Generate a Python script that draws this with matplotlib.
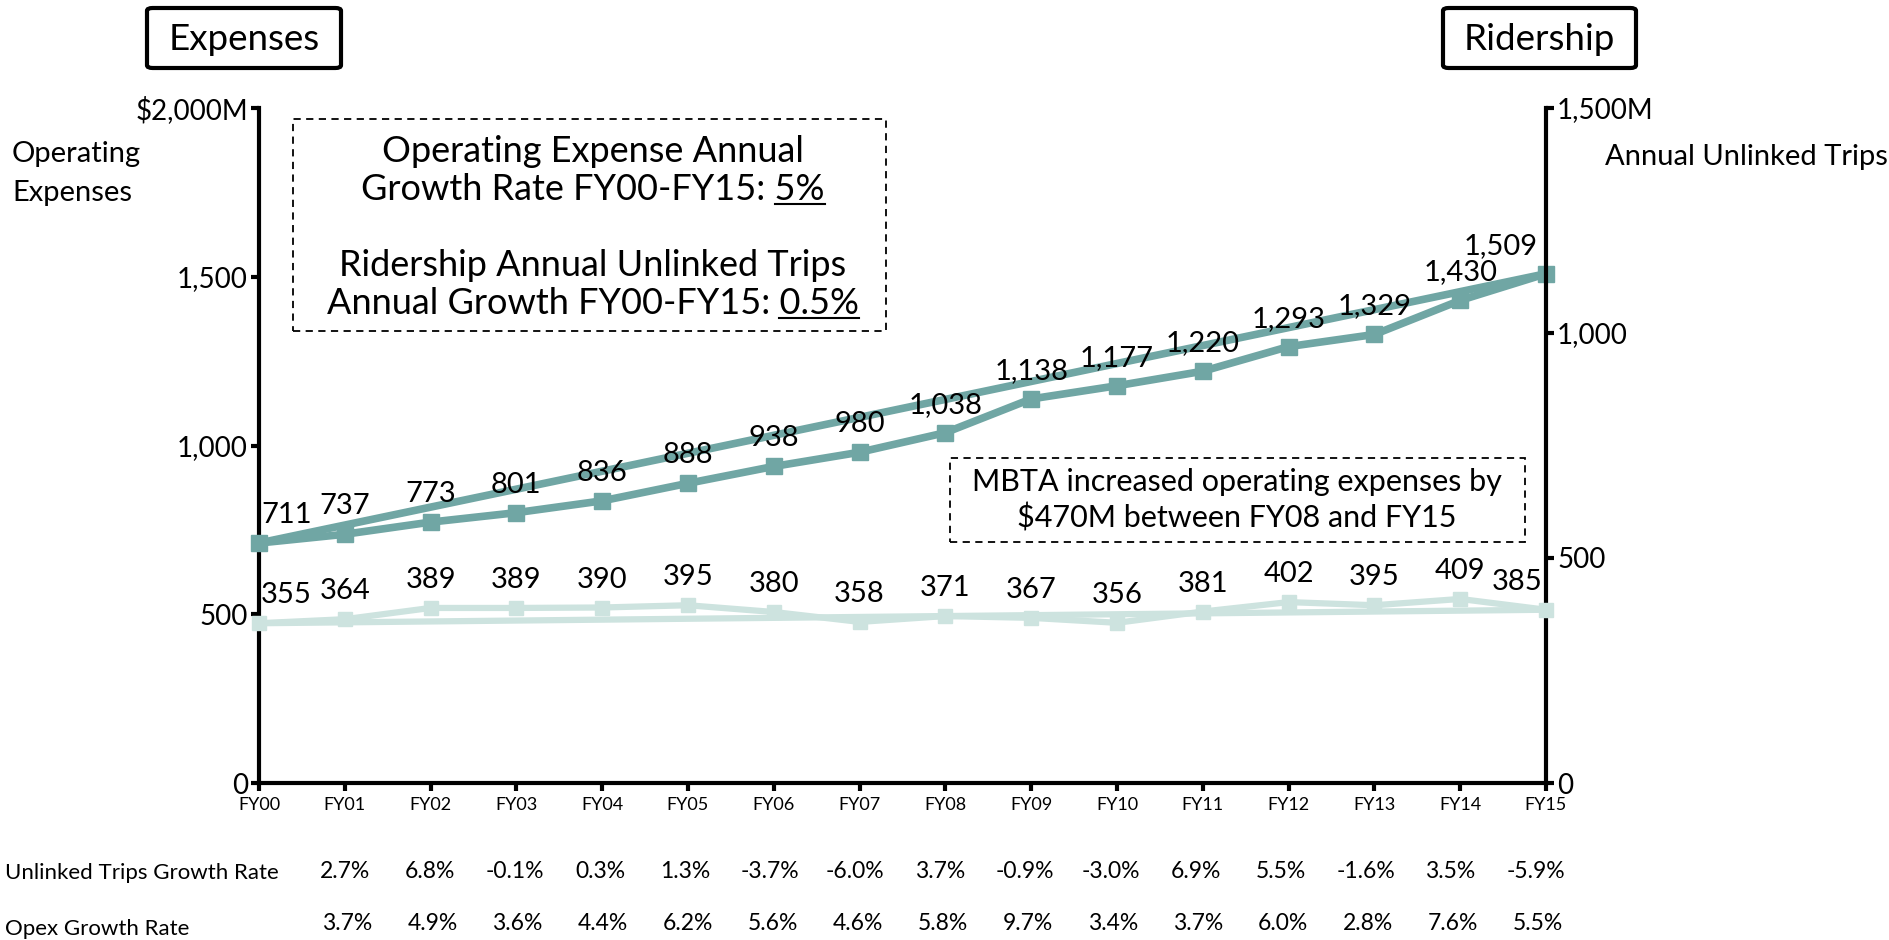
import matplotlib
matplotlib.use("Agg")
import matplotlib.pyplot as plt
from matplotlib.patches import Rectangle, FancyBboxPatch
from matplotlib.transforms import blended_transform_factory

plt.rcParams['font.family'] = ['Lato', 'DejaVu Sans']

years = ['FY00', 'FY01', 'FY02', 'FY03', 'FY04', 'FY05', 'FY06', 'FY07',
         'FY08', 'FY09', 'FY10', 'FY11', 'FY12', 'FY13', 'FY14', 'FY15']
opex = [711, 737, 773, 801, 836, 888, 938, 980, 1038, 1138, 1177, 1220, 1293, 1329, 1430, 1509]
trips = [355, 364, 389, 389, 390, 395, 380, 358, 371, 367, 356, 381, 402, 395, 409, 385]
trip_growth = ['2.7%', '6.8%', '-0.1%', '0.3%', '1.3%', '-3.7%', '-6.0%', '3.7%',
               '-0.9%', '-3.0%', '6.9%', '5.5%', '-1.6%', '3.5%', '-5.9%']
opex_growth = ['3.7%', '4.9%', '3.6%', '4.4%', '6.2%', '5.6%', '4.6%', '5.8%',
               '9.7%', '3.4%', '3.7%', '6.0%', '2.8%', '7.6%', '5.5%']

dark = '#70a6a4'
light = '#cde3df'
W, H = 1890, 940

fig = plt.figure(figsize=(W / 100, H / 100), dpi=100)
ax = fig.add_axes([259 / W, 1 - 783 / H, (1546 - 259) / W, (783 - 108) / H])
ax2 = ax.twinx()

x = list(range(len(years)))

# opex line + straight trend between first and last year
ax.plot(x, opex, color=dark, lw=5.5, marker='s', ms=11, clip_on=False, zorder=3)
ax.plot([x[0], x[-1]], [opex[0], opex[-1]], color=dark, lw=5.5, clip_on=False, zorder=3)
# ridership line + trend
ax2.plot(x, trips, color=light, lw=4.5, marker='s', ms=10, clip_on=False, zorder=3)
ax2.plot([x[0], x[-1]], [trips[0], trips[-1]], color=light, lw=4.5, clip_on=False, zorder=3)

ax.set_xlim(0, 15)
ax.set_ylim(0, 2000)
ax2.set_ylim(0, 1500)

ax.set_xticks(x)
ax.set_xticklabels(years, fontsize=13)
ax.set_yticks([0, 500, 1000, 1500, 2000])
ax.set_yticklabels(['0', '500', '1,000', '1,500', '$2,000M'], fontsize=20)
ax2.set_yticks([0, 500, 1000, 1500])
ax2.set_yticklabels(['0', '500', '1,000', '1,500M'], fontsize=20)

for a in (ax, ax2):
    a.spines['top'].set_visible(False)
    for s in ('left', 'right', 'bottom'):
        a.spines[s].set_linewidth(3)
    a.tick_params(width=3, length=6, pad=2)
ax.tick_params(axis='x', pad=4)
ax.spines['right'].set_visible(False)
ax2.spines['left'].set_visible(False)
ax2.spines['bottom'].set_visible(False)

def label_points(a, vals, last_dx):
    for i, v in enumerate(vals):
        ha, dx = 'center', 0
        if i == 0:
            ha, dx = 'left', 2
        elif i == len(vals) - 1:
            ha, dx = 'right', last_dx
        a.annotate(f'{v:,}', (i, v), xytext=(dx, 28), textcoords='offset pixels',
                   ha=ha, va='center', fontsize=21, zorder=5)

label_points(ax, opex, -8)
label_points(ax2, trips, -3)

# growth rate rows under the axis
tr = blended_transform_factory(ax.transData, fig.transFigure)
for i, (g1, g2) in enumerate(zip(trip_growth, opex_growth), start=1):
    dx = -0.12 * (i - 1) / 14
    ax.text(i + dx, 1 - 872 / H, g1, transform=tr, ha='center', va='center', fontsize=16.5)
    ax.text(i + dx + 0.03, 1 - 924 / H, g2, transform=tr, ha='center', va='center', fontsize=16.5)
fig.text(5 / W, 1 - 873 / H, 'Unlinked Trips Growth Rate', ha='left', va='center', fontsize=16)
fig.text(5 / W, 1 - 929 / H, 'Opex Growth Rate', ha='left', va='center', fontsize=16)

# axis titles
fig.text(12 / W, 1 - 154 / H, 'Operating', ha='left', va='center', fontsize=21)
fig.text(12 / W, 1 - 193 / H, 'Expenses', ha='left', va='center', fontsize=21)
fig.text(1888 / W, 1 - 157 / H, 'Annual Unlinked Trips', ha='right', va='center', fontsize=21)

# header boxes
for x0, x1, txt in [(147, 341, 'Expenses'), (1443, 1636, 'Ridership')]:
    fig.add_artist(FancyBboxPatch((x0 / W, 1 - 68 / H), (x1 - x0) / W, 60 / H,
                                  boxstyle='round,pad=0,rounding_size=0.003',
                                  transform=fig.transFigure, fill=False, lw=3, ec='black'))
    fig.text((x0 + x1) / 2 / W, 1 - 39 / H, txt, ha='center', va='center', fontsize=26.5)

# dashed note boxes
def dashed_box(x0, y0, x1, y1):
    fig.add_artist(Rectangle((x0 / W, 1 - y1 / H), (x1 - x0) / W, (y1 - y0) / H,
                             transform=fig.transFigure, fill=False, lw=1.3,
                             ls=(0, (4, 3)), ec='black'))

dashed_box(293, 119, 886, 331)
dashed_box(950, 458, 1525, 542)

renderer = fig.canvas.get_renderer()

def underlined_line(cx, y, prefix, under, size):
    t = fig.text(cx / W, 1 - y / H, prefix + under, ha='center', va='baseline', fontsize=size)
    bb = t.get_window_extent(renderer)
    tmp = fig.text(0, 0, under, fontsize=size)
    uw = tmp.get_window_extent(renderer).width
    tmp.remove()
    base = (1 - y / H) * H - 4
    fig.add_artist(plt.Line2D([(bb.x1 - uw) / W, bb.x1 / W], [base / H, base / H],
                              transform=fig.transFigure, color='black', lw=1.5))

fig.text(593 / W, 1 - 152 / H, 'Operating Expense Annual', ha='center', va='center', fontsize=26)
underlined_line(593, 200, 'Growth Rate FY00-FY15: ', '5%', 26)
fig.text(593 / W, 1 - 265 / H, 'Ridership Annual Unlinked Trips', ha='center', va='center', fontsize=26)
underlined_line(593, 314, 'Annual Growth FY00-FY15: ', '0.5%', 26)

fig.text(1237 / W, 1 - 482 / H, 'MBTA increased operating expenses by', ha='center', va='center', fontsize=22)
fig.text(1237 / W, 1 - 518 / H, '$470M between FY08 and FY15', ha='center', va='center', fontsize=22)

fig.savefig('out.png', dpi=100)
